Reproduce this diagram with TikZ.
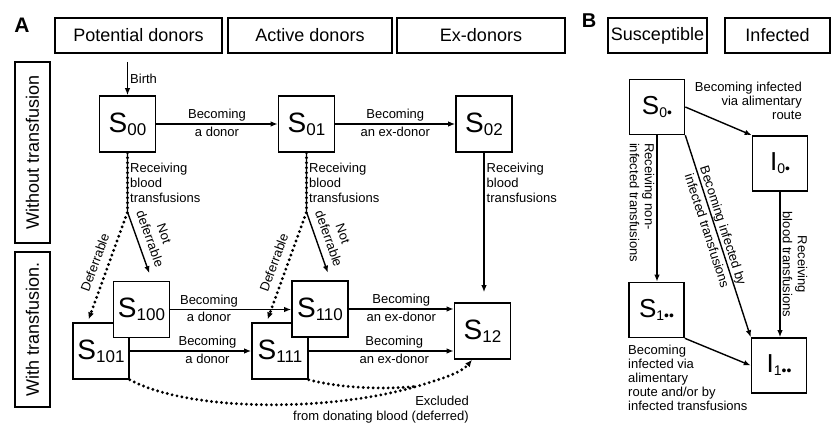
\documentclass[tikz,border=0pt]{standalone}
\usepackage{fontspec}
\setmainfont{Liberation Sans}
\usetikzlibrary{arrows.meta}
\newcommand{\stA}[2]{{\fontsize{28}{28}\selectfont #1}\raisebox{-3pt}{\fontsize{17}{17}\selectfont #2}}
\newcommand{\stB}[2]{{\fontsize{26}{26}\selectfont #1}\raisebox{-3pt}{\fontsize{14}{14}\selectfont #2}}

\begin{document}
\begin{tikzpicture}[x=1pt,y=-1pt,
  hdr/.style={draw,line width=1.1pt,minimum height=35pt,inner sep=0pt,font=\fontsize{18}{18}\selectfont},
  st/.style={draw,line width=1.6pt,fill=white,minimum size=56pt,inner sep=0pt},
  stb/.style={st,minimum size=55pt},
  lbl/.style={font=\fontsize{13}{15}\selectfont,inner sep=2pt},
  arr/.style={line width=1.4pt,-{Latex[length=7pt,width=5.5pt]}},
  dotarr/.style={line width=3.2pt,dash pattern=on 0pt off 5pt,line cap=round,-{Latex[length=7pt,width=6pt]}}]
\useasboundingbox (0,0) rectangle (832,425);
\node[font=\bfseries\fontsize{21}{21}\selectfont] (pa) at (22,25) {A};
\node[font=\bfseries\fontsize{20}{20}\selectfont] (pb) at (589,21) {B};
\node[hdr,minimum width=167pt] (pot) at (138.5,35.5) {Potential donors};
\node[hdr,minimum width=164pt] (act) at (310,35.5) {Active donors};
\node[hdr,minimum width=168pt] (exd) at (481,35.5) {Ex-donors};
\node[hdr,minimum width=99pt] (sus) at (657.5,35.5) {Susceptible};
\node[hdr,minimum width=105pt] (inf) at (777.5,35.5) {Infected};
\node[hdr,rotate=90,minimum width=181pt] (wo) at (32.5,152.5) {Without transfusion};
\node[hdr,rotate=90,minimum width=155pt] (wi) at (32.5,329.5) {With transfusion.};

\node[st] (s00) at (127.5,124) {\stA{S}{00}};
\node[st] (s01) at (306.5,124) {\stA{S}{01}};
\node[st] (s02) at (484,124) {\stA{S}{02}};
\node[st] (s101) at (101,351) {\stA{S}{101}};
\node[st] (s100) at (141.5,309.5) {\stA{S}{100}};
\node[st] (s111) at (280,351) {\stA{S}{111}};
\node[st] (s110) at (320,309) {\stA{S}{110}};
\node[st] (s12) at (482.5,331) {\stA{S}{12}};

\node[stb] (s0) at (657,107) {\stB{S}{0•}};
\node[stb] (i0) at (780,163.5) {\stB{I}{0•}};
\node[stb] (s1) at (656.5,310) {\stB{S}{1••}};
\node[stb] (i1) at (779,365.5) {\stB{I}{1••}};

\coordinate (birth) at (127.5,62);
\coordinate (sp0) at (127.5,212);
\coordinate (sp1) at (306.5,212);
\coordinate (mrg) at (418,386);

\draw[arr] (birth) -- node[lbl,right] {Birth} (s00);
\draw[arr] (s00) -- node[lbl,above] {Becoming} node[lbl,below] {a donor} (s01);
\draw[arr] (s01) -- node[lbl,above] {Becoming} node[lbl,below] {an ex-donor} (s02);
\draw[dotarr,shorten >=3pt] (s00.south) -- (sp0) -- node[lbl,sloped,above=5pt] {Deferrable} (s101.115);
\draw[arr,shorten >=8pt] (s00.south) -- node[lbl,right,align=left] {Receiving\\blood\\transfusions} (sp0) -- node[lbl,sloped,above=5pt,align=center,pos=0.45] {Not\\deferrable} (s100.70);
\draw[dotarr,shorten >=3pt] (s01.south) -- (sp1) -- node[lbl,sloped,above=5pt] {Deferrable} (s111.115);
\draw[arr,shorten >=8pt] (s01.south) -- node[lbl,right,align=left] {Receiving\\blood\\transfusions} (sp1) -- node[lbl,sloped,above=5pt,align=center,pos=0.45] {Not\\deferrable} (s110.70);
\draw[arr,shorten >=10pt] (s02.south) -- node[lbl,right,align=left,pos=0.2] {Receiving\\blood\\transfusions} (s02.south |- s12.north);

\draw[arr] (s100.east) -- node[lbl,above,pos=0.32] {Becoming} node[lbl,below,pos=0.32] {a donor} (s100.east -| s110.west);
\draw[arr] (s101) -- node[lbl,above,pos=0.64] {Becoming} node[lbl,below,pos=0.64] {a donor} (s111);
\draw[arr] (s110.east) -- node[lbl,above] {Becoming} node[lbl,below] {an ex-donor} (s110.east -| s12.west);
\draw[arr] (s111.east) -- node[lbl,above,pos=0.59] {Becoming} node[lbl,below,pos=0.59] {an ex-donor} (s111.east -| s12.west);
\draw[dotarr] (s101.south east) .. controls (190,412) and (330,412) .. (mrg) .. controls (445,378) and (462,372) .. (s12.250);
\draw[dotarr,-] (s111.south east) .. controls (340,388) and (385,390) .. (mrg);
\node[lbl,align=right,anchor=north east] (excl) at (471,394) {Excluded\\from donating blood (deferred)};

\draw[arr] (s0.east) -- (i0.north west);
\node[lbl,align=right,anchor=north east,font=\fontsize{13}{14}\selectfont] (alim) at (804,80) {Becoming infected\\via alimentary\\route};
\draw[arr] (s0.south) -- node[lbl,rotate=-90,anchor=north,align=left,pos=0.46] {Receiving non-\\infected transfusions} (s0.south |- s1.north);
\draw[arr] (s0.south east) -- node[lbl,sloped,align=center,pos=0.46,font=\fontsize{13}{17}\selectfont] {Becoming infected by\\infected transfusions} (i1.north west);
\draw[arr] (i0.south) -- node[lbl,rotate=-90,anchor=south,align=center] {Receiving\\blood transfusions} (i0.south |- i1.north);
\draw[arr] (s1.south east) -- (i1.west);
\node[lbl,align=left,anchor=north west,font=\fontsize{13}{14}\selectfont] (s1lab) at (626,343) {Becoming\\infected via\\alimentary\\route and/or by\\infected transfusions};
\end{tikzpicture}
\end{document}
